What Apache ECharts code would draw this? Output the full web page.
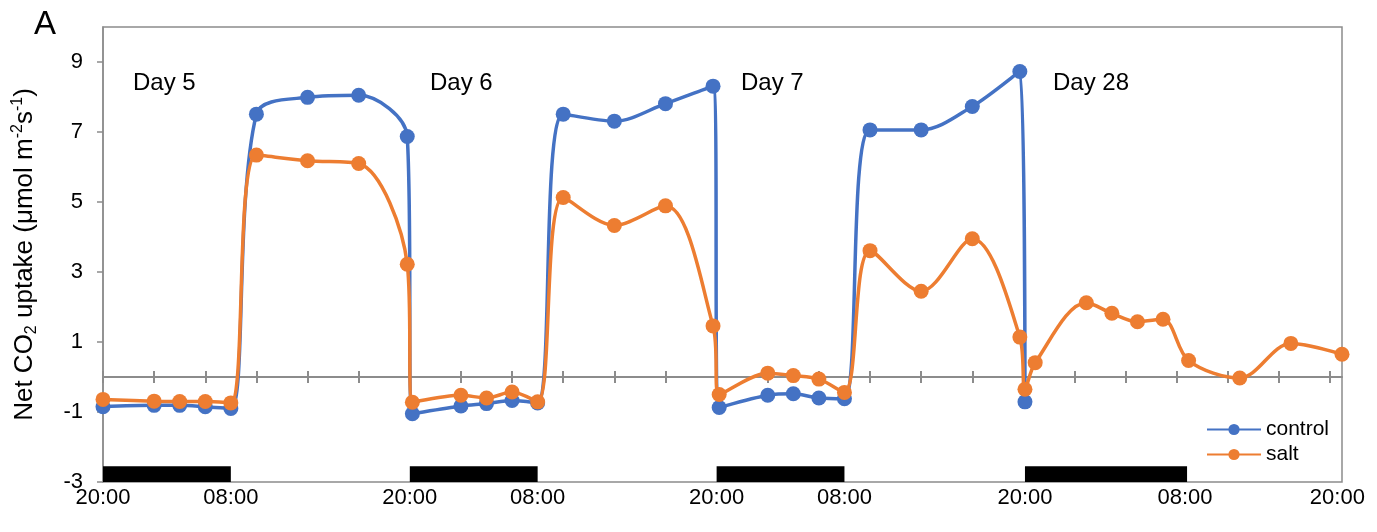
<!DOCTYPE html>
<html>
<head>
<meta charset="utf-8">
<script src="https://cdn.jsdelivr.net/npm/echarts@6/dist/echarts.min.js"></script>
<style>
  html, body { margin: 0; padding: 0; background: #fff; }
  #chart { width: 1377px; height: 532px; }
</style>
</head>
<body>
<div id="chart"></div>
<script>
// Time axis is in "slot" units: each major tick on the zero line is one slot.
const positions = [
  0, 1, 1.5, 2, 2.5, 3, 4, 5, 5.95, 6.05,
  7, 7.5, 8, 8.5, 9, 10, 11, 11.93, 12.05,
  13, 13.5, 14, 14.5, 15, 16, 17, 17.93, 18.03,
  18.23, 19.23, 19.73, 20.23, 20.73, 21.23, 22.23, 23.23, 24.23
];
// Net CO2 uptake, control plants (measured through day 7)
const control = [
  -0.85, -0.81, -0.81, -0.85, -0.90, 7.51, 7.99, 8.05, 6.87, -1.05,
  -0.83, -0.76, -0.67, -0.74, 7.51, 7.31, 7.81, 8.31, -0.87,
  -0.52, -0.48, -0.60, -0.62, 7.06, 7.06, 7.73, 8.73, -0.71
];
// Net CO2 uptake, salt-treated plants
const salt = [
  -0.64, -0.69, -0.70, -0.70, -0.74, 6.34, 6.18, 6.10, 3.22, -0.72,
  -0.52, -0.60, -0.43, -0.71, 5.13, 4.33, 4.89, 1.46, -0.50,
  0.11, 0.04, -0.06, -0.44, 3.61, 2.45, 3.95, 1.14, -0.35,
  0.41, 2.12, 1.82, 1.58, 1.65, 0.47, -0.03, 0.96, 0.65
];
// Dark periods (start, end) drawn as black bars along the bottom
const nights = [[0, 2.5], [6, 8.5], [12, 14.5], [18.03, 21.2]];
// Clock-time labels under the plot
const timeTicks = [0, 2.5, 6, 8.5, 12, 14.5, 18.03, 21.16, 24.14];
const timeLabels = ['20:00', '08:00', '20:00', '08:00', '20:00', '08:00', '20:00', '08:00', '20:00'];
// Day annotations
const dayNames = ['Day 5', 'Day 6', 'Day 7', 'Day 28'];
const slotTicks = [0, 1, 2, 3, 4, 5, 6, 7, 8, 9, 10, 11, 12, 13, 14, 15, 16, 17, 18, 19, 20, 21, 22, 23, 24];
const yTicks = [-3, -1, 1, 3, 5, 7, 9];

const FONT = '"Liberation Sans", Arial, Helvetica, sans-serif';
const GRAY = '#8c8c8c';
const BLUE = '#4472C4';
const ORANGE = '#ED7D31';
const X_MIN = 0, X_MAX = 24.23, Y_MIN = -3, Y_MAX = 10;
const BAR_TOP = -2.55;
const W = 1377, H = 532;
const GRID = { left: 103, right: 35, top: 27, bottom: 50 };
const dayLabelLeft = [133, 430, 741, 1053];

// Pixel row of y = 0, used for a helper grid whose bottom edge sits on the zero line
const plotH = H - GRID.top - GRID.bottom;
const zeroRow = GRID.top + plotH * (Y_MAX - 0) / (Y_MAX - Y_MIN);
const ZERO_GRID = { left: GRID.left, right: GRID.right, top: GRID.top, bottom: H - zeroRow };

const zip = (xs, ys) => ys.map((y, i) => [xs[i], y]);

const chart = echarts.init(document.getElementById('chart'), null, { renderer: 'canvas' });

const lineSeries = (name, values, color, extra) => Object.assign({
  name: name,
  type: 'line',
  xAxisIndex: 0,
  yAxisIndex: 0,
  data: zip(positions, values),
  smooth: 0.33,
  symbol: 'circle',
  symbolSize: 15,
  lineStyle: { color: color, width: 3.5 },
  itemStyle: { color: color },
  emphasis: { disabled: true }
}, extra || {});

chart.setOption({
  animation: false,
  textStyle: { fontFamily: FONT },
  grid: [
    Object.assign({ show: true, borderColor: GRAY, borderWidth: 1.5, backgroundColor: 'transparent' }, GRID),
    Object.assign({ show: false }, GRID),
    Object.assign({ show: false }, ZERO_GRID)
  ],
  xAxis: [
    {
      type: 'value', gridIndex: 0, min: X_MIN, max: X_MAX, position: 'bottom',
      axisLine: { show: true, onZero: true, lineStyle: { color: GRAY, width: 2 } },
      axisTick: { show: true, inside: false, length: 6, customValues: slotTicks, lineStyle: { color: GRAY, width: 2 } },
      axisLabel: { show: false },
      splitLine: { show: false }
    },
    {
      type: 'value', gridIndex: 1, min: X_MIN, max: X_MAX, position: 'bottom',
      axisLine: { show: false, onZero: false },
      axisTick: { show: false },
      axisLabel: {
        show: true, customValues: timeTicks, margin: 5,
        fontSize: 22, color: '#000', fontFamily: FONT,
        formatter: (v) => timeLabels[timeTicks.indexOf(v)]
      },
      splitLine: { show: false }
    },
    {
      type: 'value', gridIndex: 2, min: X_MIN, max: X_MAX, position: 'bottom',
      axisLine: { show: false, onZero: false },
      axisTick: { show: true, inside: true, length: 6, customValues: slotTicks, lineStyle: { color: GRAY, width: 2 } },
      axisLabel: { show: false },
      splitLine: { show: false }
    }
  ],
  yAxis: [
    {
      type: 'value', gridIndex: 0, min: Y_MIN, max: Y_MAX,
      axisLine: { show: true, lineStyle: { color: GRAY, width: 1.5 } },
      axisTick: { show: true, length: 6, customValues: yTicks, lineStyle: { color: GRAY, width: 1.5 } },
      axisLabel: { customValues: yTicks, margin: 20, fontSize: 22, color: '#000', fontFamily: FONT },
      splitLine: { show: false },
      name: '{n|Net CO}{sub|2}{n| uptake (μmol m}{sup|-2}{n|s}{sup|-1}{n|)}',
      nameLocation: 'middle',
      nameGap: 63,
      nameTextStyle: {
        color: '#000', fontFamily: FONT, fontSize: 26,
        rich: {
          n: { fontSize: 26, lineHeight: 30, color: '#000', fontFamily: FONT },
          sub: { fontSize: 16, lineHeight: 16, verticalAlign: 'bottom', color: '#000', fontFamily: FONT },
          sup: { fontSize: 16, lineHeight: 16, verticalAlign: 'top', color: '#000', fontFamily: FONT }
        }
      }
    },
    { type: 'value', gridIndex: 1, min: Y_MIN, max: Y_MAX, show: false },
    { type: 'value', gridIndex: 2, min: 0, max: Y_MAX, show: false }
  ],
  legend: {
    data: ['control', 'salt'],
    orient: 'vertical',
    left: 1201, top: 414,
    itemWidth: 54, itemHeight: 14, itemGap: 4,
    textStyle: { fontSize: 21, color: '#000', fontFamily: FONT }
  },
  graphic: [
    { type: 'text', left: 34, top: 8, style: { text: 'A', fontSize: 33, fill: '#000', fontFamily: FONT } }
  ].concat(dayNames.map((t, i) => ({
    type: 'text', left: dayLabelLeft[i], top: 71,
    style: { text: t, fontSize: 24, fill: '#000', fontFamily: FONT }
  }))),
  series: [
    lineSeries('control', control, BLUE, {
      markArea: {
        silent: true,
        itemStyle: { color: '#000', borderWidth: 0 },
        data: nights.map(n => [{ xAxis: n[0], yAxis: Y_MIN }, { xAxis: n[1], yAxis: BAR_TOP }])
      }
    }),
    lineSeries('salt', salt, ORANGE)
  ]
});
</script>
</body>
</html>
